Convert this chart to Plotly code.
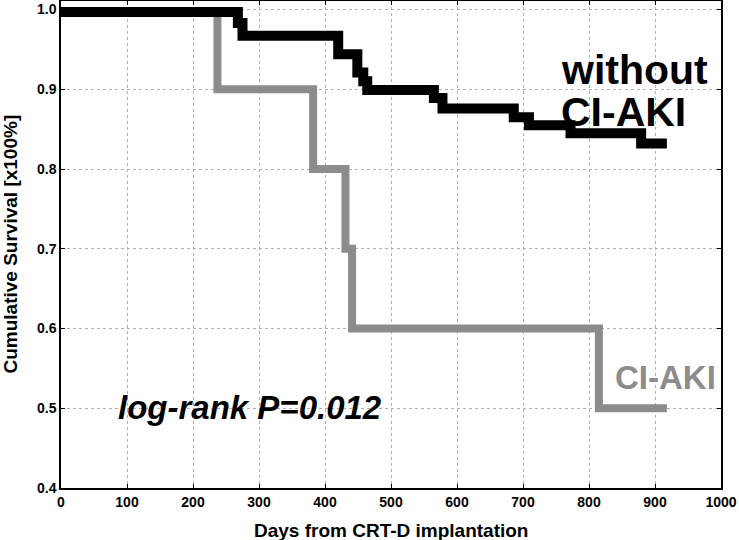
import plotly.graph_objects as go

# Kaplan-Meier step data (days, survival)
days_no_aki = [0, 268, 275, 420, 449, 458, 464, 565, 578, 686, 709, 772, 879, 918]
surv_no_aki = [0.997, 0.983, 0.967, 0.944, 0.921, 0.910, 0.899, 0.889, 0.876, 0.865, 0.855, 0.845, 0.832, 0.832]

days_aki = [0, 237, 382, 431, 441, 815, 918]
surv_aki = [0.997, 0.9, 0.8, 0.7, 0.6, 0.5, 0.5]

x_ticks = [0, 100, 200, 300, 400, 500, 600, 700, 800, 900, 1000]
y_ticks = [0.4, 0.5, 0.6, 0.7, 0.8, 0.9, 1.0]
y_tick_text = ["0.4", "0.5", "0.6", "0.7", "0.8", "0.9", "1.0"]

fig = go.Figure()
fig.add_trace(go.Scatter(x=days_aki, y=surv_aki, mode="lines",
                         line=dict(shape="hv", color="#8c8c8c", width=8),
                         showlegend=False, hoverinfo="skip"))
fig.add_trace(go.Scatter(x=days_no_aki, y=surv_no_aki, mode="lines",
                         line=dict(shape="hv", color="#000000", width=10),
                         showlegend=False, hoverinfo="skip"))

ff = "Liberation Sans, Arial, sans-serif"

fig.add_annotation(x=755, y=0.924, text="<b>without</b>", showarrow=False,
                   xanchor="left", yanchor="middle",
                   font=dict(family=ff, size=41, color="#000"))
fig.add_annotation(x=755, y=0.871, text="<b>CI-AKI</b>", showarrow=False,
                   xanchor="left", yanchor="middle",
                   font=dict(family=ff, size=41, color="#000"))
fig.add_annotation(x=837, y=0.539, text="<b>CI-AKI</b>", showarrow=False,
                   xanchor="left", yanchor="middle",
                   font=dict(family=ff, size=33, color="#8c8c8c"))
fig.add_annotation(x=84, y=0.501, text="<b><i>log-rank P=0.012</i></b>", showarrow=False,
                   xanchor="left", yanchor="middle",
                   font=dict(family=ff, size=33, color="#000"))

# axis titles as paper annotations
fig.add_annotation(xref="paper", yref="paper", x=0.5, y=0, yshift=-42,
                   text="<b>Days from CRT-D implantation</b>", showarrow=False,
                   xanchor="center", yanchor="middle",
                   font=dict(family=ff, size=19, color="#000"))
fig.add_annotation(xref="paper", yref="paper", x=0, y=0.5, xshift=-51, textangle=-90,
                   text="<b>Cumulative Survival [x100%]</b>", showarrow=False,
                   xanchor="center", yanchor="middle",
                   font=dict(family=ff, size=19, color="#000"))

axis_common = dict(showgrid=True, gridcolor="#b0b0b0", griddash="dot", gridwidth=1,
                   showline=True, linecolor="#000", linewidth=1.5, mirror="ticks",
                   ticks="inside", ticklen=4, tickcolor="#000", zeroline=False,
                   automargin=False,
                   tickfont=dict(family=ff, size=14, color="#000", weight="bold"))

fig.update_xaxes(range=[0, 1000], tickvals=x_ticks, **axis_common)
fig.update_yaxes(range=[0.4, 1.0107], tickvals=y_ticks, ticktext=y_tick_text, **axis_common)

fig.update_layout(width=739, height=540, plot_bgcolor="white", paper_bgcolor="white",
                  margin=dict(l=61, r=18, t=1, b=52), showlegend=False)

fig.write_html("out.html", config={"displayModeBar": False},
               post_script="document.body.style.margin='0';")
